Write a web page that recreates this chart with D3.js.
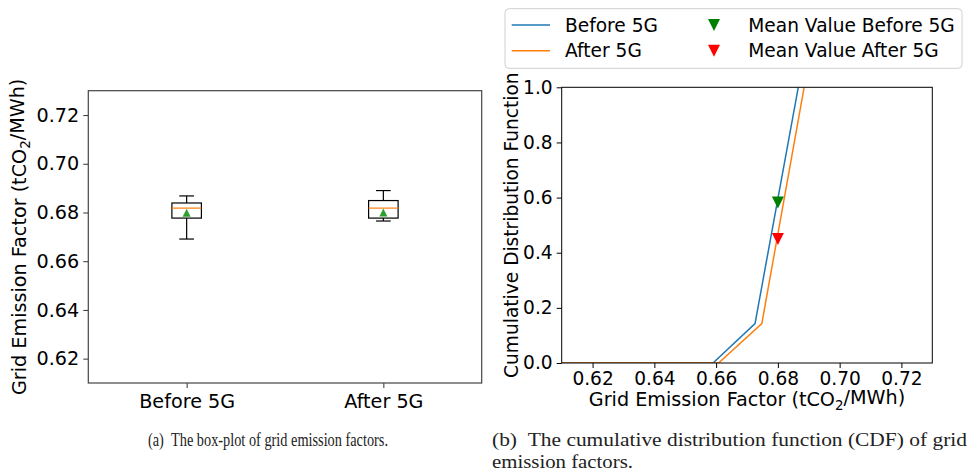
<!DOCTYPE html>
<html>
<head>
<meta charset="utf-8">
<script src="https://cdn.jsdelivr.net/npm/d3@7"></script>
<style>
  html, body { margin: 0; padding: 0; background: #fff; }
  svg { display: block; }
  text { font-family: "DejaVu Sans", sans-serif; fill: #000; }
  .cap { font-family: "Liberation Serif", "DejaVu Serif", serif; fill: #222; }
</style>
</head>
<body>
<svg id="fig" width="974" height="476"></svg>
<script>
// ---- box-plot statistics (tCO2/MWh) ----
const categories   = ["Before 5G", "After 5G"];
const whiskerLow   = [0.6691, 0.6765];
const quartile1    = [0.6777, 0.6777];
const medians      = [0.6818, 0.6818];
const quartile3    = [0.6839, 0.6849];
const whiskerHigh  = [0.6868, 0.6890];
const boxMeans     = [0.6799, 0.6800];
const boxTicks     = [0.62, 0.64, 0.66, 0.68, 0.70, 0.72];

// ---- empirical CDF curves ----
const cdfBeforeX = [0.610, 0.6590, 0.6726, 0.6866];
const cdfBeforeY = [0.0,   0.0,    0.143,  1.0];
const cdfAfterX  = [0.610, 0.6608, 0.6748, 0.6885];
const cdfAfterY  = [0.0,   0.0,    0.143,  1.0];
const meanX      = [0.680, 0.680];
const meanCdf    = [0.582, 0.450];
const cdfXTicks  = [0.62, 0.64, 0.66, 0.68, 0.70, 0.72];
const cdfYTicks  = [0.0, 0.2, 0.4, 0.6, 0.8, 1.0];

const seriesNames = ["Before 5G", "After 5G"];
const meanNames   = ["Mean Value Before 5G", "Mean Value After 5G"];

const blue = "#1f77b4", orange = "#ff7f0e", green = "#2ca02c";
const svg = d3.select("#fig");

// Axis label with CO2 subscript
function emissionLabel(sel, size) {
  sel.style("font-size", size + "px");
  sel.append("tspan").text("Grid Emission Factor (tCO");
  sel.append("tspan").attr("dy", "0.3em").style("font-size", (size * 0.7) + "px").text("2");
  sel.append("tspan").attr("dy", "-0.3em").text("/MWh)");
}

// ================= (a) box plot =================
{
  const fs = 19.2;
  const x = d3.scaleLinear().domain([0.5, 2.5]).range([88.3, 481.7]);
  const y = d3.scaleLinear().domain([0.61, 0.73]).range([383, 90.7]);
  const g = svg.append("g");
  const boxW = x(1.15) - x(1);      // box width 0.15 in position units
  const capW = boxW / 2;

  const ya = g.append("g").attr("transform", `translate(${x(0.5)},0)`)
    .call(d3.axisLeft(y).tickValues(boxTicks).tickFormat(d3.format(".2f")).tickSize(5).tickPadding(4));
  const xa = g.append("g").attr("transform", `translate(0,${y(0.61)})`)
    .call(d3.axisBottom(x).tickValues([1, 2]).tickFormat((d, i) => categories[i]).tickSize(5).tickPadding(6));
  [ya, xa].forEach(a => {
    a.select(".domain").remove();
    a.selectAll(".tick line").attr("stroke", "#333").attr("stroke-width", 1);
    a.selectAll(".tick text").style("font-size", fs + "px").style("font-family", "DejaVu Sans").attr("fill", "#000");
  });

  g.append("rect").attr("x", x(0.5)).attr("y", y(0.73))
    .attr("width", x(2.5) - x(0.5)).attr("height", y(0.61) - y(0.73))
    .attr("fill", "none").attr("stroke", "#444").attr("stroke-width", 1.2);

  categories.forEach((c, i) => {
    const cx = x(i + 1);
    const bg = g.append("g").attr("stroke", "#000").attr("stroke-width", 1.2).attr("fill", "none");
    // whiskers
    bg.append("line").attr("x1", cx).attr("x2", cx).attr("y1", y(quartile3[i])).attr("y2", y(whiskerHigh[i]));
    bg.append("line").attr("x1", cx).attr("x2", cx).attr("y1", y(quartile1[i])).attr("y2", y(whiskerLow[i]));
    // caps
    bg.append("line").attr("x1", cx - capW / 2).attr("x2", cx + capW / 2).attr("y1", y(whiskerHigh[i])).attr("y2", y(whiskerHigh[i]));
    bg.append("line").attr("x1", cx - capW / 2).attr("x2", cx + capW / 2).attr("y1", y(whiskerLow[i])).attr("y2", y(whiskerLow[i]));
    // box
    bg.append("rect").attr("x", cx - boxW / 2).attr("y", y(quartile3[i]))
      .attr("width", boxW).attr("height", y(quartile1[i]) - y(quartile3[i]));
    // median
    g.append("line").attr("x1", cx - boxW / 2).attr("x2", cx + boxW / 2)
      .attr("y1", y(medians[i])).attr("y2", y(medians[i]))
      .attr("stroke", orange).attr("stroke-width", 1.2);
    // mean marker
    const my = y(boxMeans[i]), h = 4;
    g.append("path").attr("d", `M${cx},${my - h}L${cx + h},${my + h}L${cx - h},${my + h}Z`).attr("fill", green);
  });

  g.append("text").attr("transform", `translate(19,${(y(0.61) + y(0.73)) / 2}) rotate(-90)`)
    .attr("text-anchor", "middle").attr("dy", "0.35em").call(emissionLabel, fs);
}

// ================= (b) CDF =================
{
  const fs = 18.6;
  const x = d3.scaleLinear().domain([0.61, 0.73]).range([561.7, 932.3]);
  const y = d3.scaleLinear().domain([0, 1]).range([363, 87.3]);
  const g = svg.append("g");

  const xa = g.append("g").attr("transform", `translate(0,${y(0)})`)
    .call(d3.axisBottom(x).tickValues(cdfXTicks).tickFormat(d3.format(".2f")).tickSize(5).tickPadding(3.5));
  const ya = g.append("g").attr("transform", `translate(${x(0.61)},0)`)
    .call(d3.axisLeft(y).tickValues(cdfYTicks).tickFormat(d3.format(".1f")).tickSize(5).tickPadding(4));
  [xa, ya].forEach(a => {
    a.select(".domain").remove();
    a.selectAll(".tick line").attr("stroke", "#000");
    a.selectAll(".tick text").style("font-size", fs + "px").style("font-family", "DejaVu Sans").attr("fill", "#000");
  });

  g.append("defs").append("clipPath").attr("id", "cdfclip").append("rect")
    .attr("x", x(0.61)).attr("y", y(1)).attr("width", x(0.73) - x(0.61)).attr("height", y(0) - y(1));

  const line = d3.line().x(d => x(d[0])).y(d => y(d[1]));
  const plot = g.append("g").attr("clip-path", "url(#cdfclip)");
  plot.append("path").datum(d3.zip(cdfBeforeX, cdfBeforeY)).attr("d", line)
    .attr("fill", "none").attr("stroke", blue).attr("stroke-width", 1.5);
  plot.append("path").datum(d3.zip(cdfAfterX, cdfAfterY)).attr("d", line)
    .attr("fill", "none").attr("stroke", orange).attr("stroke-width", 1.5);

  const meanColors = ["#008000", "#ff0000"];
  const downTri = (cx, cy, h) => `M${cx - h},${cy - h}L${cx + h},${cy - h}L${cx},${cy + h}Z`;
  meanX.forEach((mx, i) => {
    g.append("path").attr("d", downTri(x(mx), y(meanCdf[i]), 6)).attr("fill", meanColors[i]);
  });

  g.append("rect").attr("x", x(0.61)).attr("y", y(1))
    .attr("width", x(0.73) - x(0.61)).attr("height", y(0) - y(1))
    .attr("fill", "none").attr("stroke", "#000").attr("stroke-width", 1);

  g.append("text").attr("x", (x(0.61) + x(0.73)) / 2).attr("y", 406)
    .attr("text-anchor", "middle").call(emissionLabel, 19.2);

  g.append("text").attr("transform", `translate(511,${(y(0) + y(1)) / 2}) rotate(-90)`)
    .attr("text-anchor", "middle").attr("dy", "0.35em").style("font-size", fs + "px")
    .text("Cumulative Distribution Function");

  // legend
  const lg = svg.append("g");
  lg.append("rect").attr("x", 505).attr("y", 8.7).attr("width", 457).attr("height", 59.6)
    .attr("rx", 4).attr("fill", "#fff").attr("stroke", "#d0d0d0").attr("stroke-width", 1);
  const rows = [25, 50.7];
  [blue, orange].forEach((c, i) => {
    lg.append("line").attr("x1", 511.7).attr("x2", 550).attr("y1", rows[i]).attr("y2", rows[i])
      .attr("stroke", c).attr("stroke-width", 1.5);
    lg.append("text").attr("x", 565).attr("y", rows[i]).attr("dy", "0.35em")
      .style("font-size", fs + "px").text(seriesNames[i]);
    lg.append("path").attr("d", downTri(714, rows[i], 6)).attr("fill", meanColors[i]);
    lg.append("text").attr("x", 748.3).attr("y", rows[i]).attr("dy", "0.35em")
      .style("font-size", fs + "px").text(meanNames[i]);
  });
}

// ================= captions =================
{
  const capSize = 19.5;
  const cap = (x, y, w, s) => svg.append("text").attr("class", "cap").attr("x", x).attr("y", y)
    .attr("textLength", w).attr("lengthAdjust", "spacingAndGlyphs")
    .style("font-size", capSize + "px").text(s);
  cap(148, 446, 240, "(a)\u2002The box-plot of grid emission factors.");
  cap(492, 446, 475, "(b)\u2002The cumulative distribution function (CDF) of grid");
  cap(492, 468, 141, "emission factors.");
}
</script>
</body>
</html>
